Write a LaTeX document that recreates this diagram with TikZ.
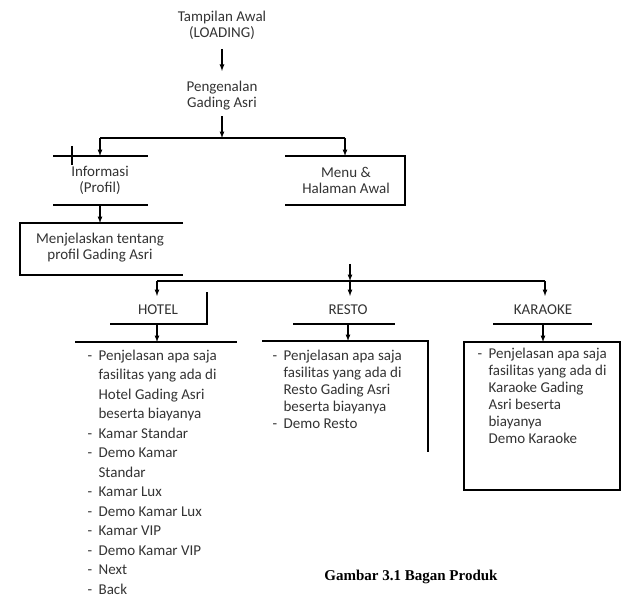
\documentclass[tikz,border=0pt]{standalone}
\usepackage{fontspec}
\setmainfont{Carlito}
\newfontfamily\captionfont{Liberation Serif}

\newcommand{\listdash}{\makebox[11pt][l]{-}}
\newcommand{\listgap}{\hspace*{11pt}}

\begin{document}
\begin{tikzpicture}[x=1pt, y=-1pt, >=latex, line width=1.2pt,
  lbl/.style={font=\fontsize{15}{16}\selectfont, align=center, inner sep=0pt, text=black!80},
  lst/.style={font=\fontsize{15}{17}\selectfont, align=left, inner sep=0pt, anchor=north west, text=black!80}]

\useasboundingbox (0,0) rectangle (623,601);

\node[lbl] (load) at (222,25) {Tampilan Awal\\(LOADING)};
\node[lbl] (kenal) at (222,96) {Pengenalan\\Gading Asri};
\node[lbl] (info) at (100,180) {Informasi\\(Profil)};
\node[lbl] (menu) at (346,180) {Menu \&\\Halaman Awal};
\node[lbl] (profil) at (100,248) {Menjelaskan tentang\\profil Gading Asri};
\node[lbl] (hotel) at (158,310) {HOTEL};
\node[lbl] (resto) at (348,310) {RESTO};
\node[lbl] (karaoke) at (543,310) {KARAOKE};

\node[lst, font=\fontsize{15}{19.5}\selectfont] (hotellist) at (87,349)
  {\listdash Penjelasan apa saja\\ \listgap fasilitas yang ada di\\ \listgap Hotel Gading Asri\\
   \listgap beserta biayanya\\ \listdash Kamar Standar\\ \listdash Demo Kamar\\ \listgap Standar\\
   \listdash Kamar Lux\\ \listdash Demo Kamar Lux\\ \listdash Kamar VIP\\ \listdash Demo Kamar VIP\\
   \listdash Next\\ \listdash Back};
\node[lst] (restolist) at (272,349)
  {\listdash Penjelasan apa saja\\ \listgap fasilitas yang ada di\\ \listgap Resto Gading Asri\\
   \listgap beserta biayanya\\ \listdash Demo Resto};
\node[lst] (karaokelist) at (477,347)
  {\listdash Penjelasan apa saja\\ \listgap fasilitas yang ada di\\ \listgap Karaoke Gading\\
   \listgap Asri beserta\\ \listgap biayanya\\ \listgap Demo Karaoke};

\node[font=\captionfont\bfseries\fontsize{15}{18}\selectfont] (judul) at (411,577) {Gambar 3.1 Bagan Produk};

\coordinate (split) at (222,138);
\coordinate (lbranch) at (100,138);
\coordinate (rbranch) at (345,138);
\coordinate (infotop) at (100,156);
\coordinate (menutop) at (345,156);
\coordinate (infobot) at (100,205);
\coordinate (profiltop) at (100,223);
\coordinate (hbranch) at (157,281);
\coordinate (mbranch) at (350,281);
\coordinate (kbranch) at (545,281);
\coordinate (menustub) at (350,264);

% frames
\draw (53,156) -- (148,156);
\draw (72,146) -- (72,165);
\draw (53,205) -- (148,205);
\draw (285,156) -- (405,156) -- (405,205) -- (285,205);
\draw (183,223) -- (20,223) -- (20,275) -- (183,275);
\draw (110,324) -- (207,324) -- (207,292);
\draw (293,324) -- (395,324);
\draw (493,324) -- (592,324);
\draw (75,342) -- (237,342);
\draw (262,341) -- (428,341) -- (428,452);
\draw (464,342) rectangle (620,490);

% connectors
\draw[->, shorten <=9pt, shorten >=10pt] (load) -- (kenal);
\draw[->, shorten <=5pt] (kenal) -- (split);
\draw (lbranch) -- (rbranch);
\draw[->] (lbranch) -- (infotop);
\draw[->] (rbranch) -- (menutop);
\draw[->] (infobot) -- (profiltop);
\draw (hbranch) -- (kbranch);
\draw[->] (menustub) -- (mbranch);
\draw[->] (hbranch) -- (157,296);
\draw[->] (mbranch) -- (350,296);
\draw[->] (kbranch) -- (545,296);
\draw[->] (157,324) -- (157,342);
\draw[->] (348,324) -- (348,341);
\draw[->] (543,324) -- (543,342);

\end{tikzpicture}
\end{document}
